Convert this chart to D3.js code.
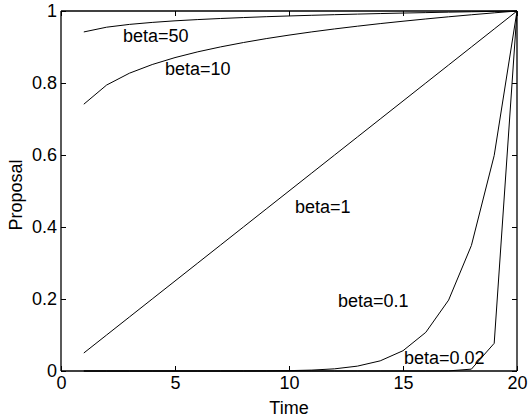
<!DOCTYPE html>
<html>
<head>
<meta charset="utf-8">
<script src="https://cdn.jsdelivr.net/npm/d3@7"></script>
<style>
  html,body{margin:0;padding:0;background:#fff}
  svg{display:block}
  text{font-family:"Liberation Sans",Arial,sans-serif;fill:#000}
</style>
</head>
<body>
<div id="chart"></div>
<script>
// time steps and proposal curves, one per beta
const time = [1,2,3,4,5,6,7,8,9,10,11,12,13,14,15,16,17,18,19,20]
const beta50 = [0.9418,0.9550,0.9628,0.9683,0.9727,0.9762,0.9792,0.9818,0.9842,0.9862,0.9881,0.9898,0.9914,0.9929,0.9943,0.9955,0.9968,0.9979,0.9990,1]
const beta10 = [0.7411,0.7943,0.8272,0.8513,0.8706,0.8866,0.9003,0.9124,0.9233,0.9330,0.9420,0.9502,0.9578,0.9650,0.9716,0.9779,0.9839,0.9895,0.9949,1]
const beta1 = [0.05,0.10,0.15,0.20,0.25,0.30,0.35,0.40,0.45,0.50,0.55,0.60,0.65,0.70,0.75,0.80,0.85,0.90,0.95,1]
const beta01 = [0,0,0,0,0,0,0,0.0001,0.0003,0.0010,0.0025,0.0060,0.0135,0.0282,0.0563,0.1074,0.1969,0.3487,0.5987,1]
const beta002 = [0,0,0,0,0,0,0,0,0,0,0,0,0,0,0,0,0.0003,0.0052,0.0769,1]
const xTicks = [0,5,10,15,20]
const yTicks = [0,0.2,0.4,0.6,0.8,1]
const labels = [
  {text:'beta=50', t:2.72, v:0.914},
  {text:'beta=10', t:4.56, v:0.822},
  {text:'beta=1', t:10.26, v:0.439},
  {text:'beta=0.1', t:12.15, v:0.178},
  {text:'beta=0.02', t:15.04, v:0.019}
]

const W = 528, H = 419
const m = {top:11, right:11, bottom:48, left:61}
const fs = 18
const svg = d3.select('#chart').append('svg').attr('width',W).attr('height',H)
const x = d3.scaleLinear().domain([0,20]).range([m.left, W-m.right])
const y = d3.scaleLinear().domain([0,1]).range([H-m.bottom, m.top])

const g = svg.append('g')

// curves
const line = d3.line().x((d,i)=>x(time[i])).y(d=>y(d))
;[beta50,beta10,beta1,beta01,beta002].forEach(s=>{
  g.append('path').attr('d', line(s)).attr('fill','none').attr('stroke','#000').attr('stroke-width',1)
})

// labels on curves
labels.forEach(l=>{
  g.append('text').attr('x', x(l.t)).attr('y', y(l.v)).attr('font-size',fs).text(l.text)
})

// axes, matlab style: ticks inward on all four sides
const tk = 5
const axBottom = svg.append('g').attr('transform',`translate(0,${y(0)})`)
  .call(d3.axisBottom(x).tickValues(xTicks).tickSize(-tk).tickPadding(5).tickFormat(d3.format('d')))
const axTop = svg.append('g').attr('transform',`translate(0,${y(1)})`)
  .call(d3.axisTop(x).tickValues(xTicks).tickSize(-tk).tickFormat(''))
const axLeft = svg.append('g').attr('transform',`translate(${x(0)},0)`)
  .call(d3.axisLeft(y).tickValues(yTicks).tickSize(-tk).tickPadding(4).tickFormat(d=>d3.format('~g')(d)))
const axRight = svg.append('g').attr('transform',`translate(${x(20)},0)`)
  .call(d3.axisRight(y).tickValues(yTicks).tickSize(-tk).tickFormat(''))

;[axBottom,axTop,axLeft,axRight].forEach(a=>{
  a.select('.domain').attr('stroke','#000').attr('stroke-width',1.3)
  a.selectAll('.tick line').attr('stroke','#000')
  a.selectAll('text').attr('font-size',fs).attr('font-family','"Liberation Sans",Arial,sans-serif').attr('fill','#000')
})
axBottom.select('.domain').attr('d', `M${x(0)},0H${x(20)}`)
axTop.select('.domain').attr('d', `M${x(0)},0H${x(20)}`)
axLeft.select('.domain').attr('d', `M0,${y(0)}V${y(1)}`)
axRight.select('.domain').attr('d', `M0,${y(0)}V${y(1)}`)

// axis titles
svg.append('text').attr('x', x(10)).attr('y', 414).attr('text-anchor','middle').attr('font-size',fs).text('Time')
svg.append('text').attr('transform',`translate(22,195) rotate(-90)`).attr('text-anchor','middle').attr('font-size',fs).text('Proposal')
</script>
</body>
</html>
